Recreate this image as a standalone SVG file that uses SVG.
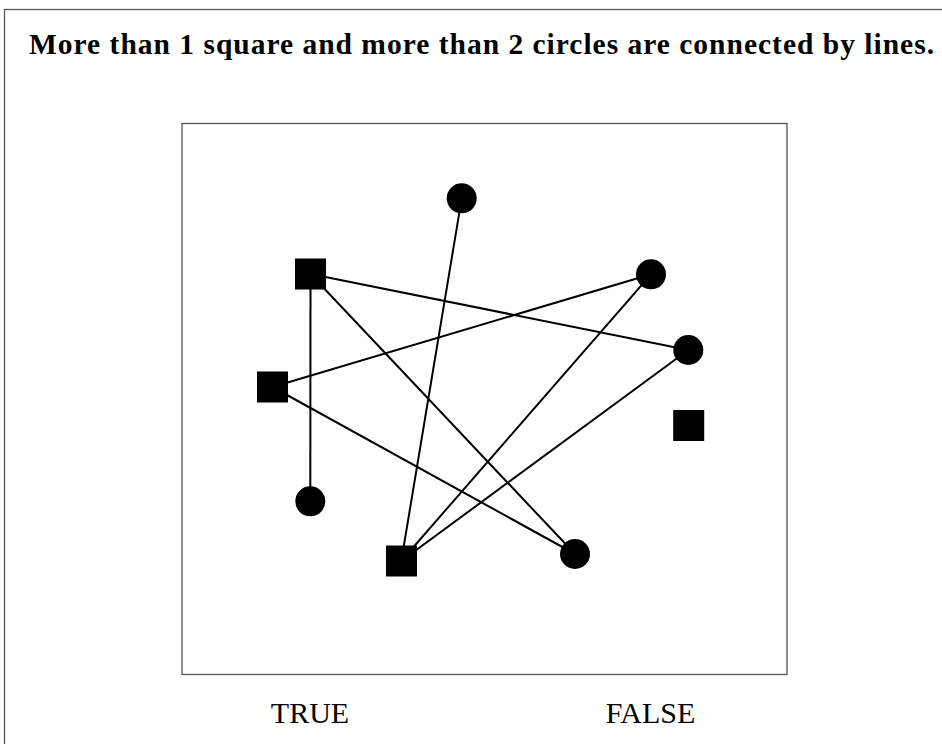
<svg xmlns="http://www.w3.org/2000/svg" width="942" height="744" viewBox="0 0 942 744">
<style>
.frame{fill:none;stroke:#555;stroke-width:1.3}
.edge{stroke:#000;stroke-width:2;fill:none}
.sq{fill:#000}
.ci{fill:#000}
.title{font-family:"Liberation Serif","DejaVu Serif",serif;font-weight:bold;font-size:29.5px;fill:#000}
.lbl{font-family:"Liberation Serif","DejaVu Serif",serif;font-size:30px;fill:#000}
</style>
<rect class="frame" x="4.5" y="9.5" width="950" height="760"/>
<text class="title" x="29" y="54" textLength="905">More than 1 square and more than 2 circles are connected by lines.</text>
<rect class="frame" x="182" y="123.5" width="605" height="551"/>
<g id="connectors">
<line class="edge" x1="461.7" y1="198.3" x2="401.3" y2="561"/>
<line class="edge" x1="310.5" y1="274" x2="688.3" y2="350"/>
<line class="edge" x1="310.5" y1="274" x2="310.3" y2="501.3"/>
<line class="edge" x1="310.5" y1="274" x2="575" y2="554"/>
<line class="edge" x1="272.5" y1="387" x2="651" y2="274.3"/>
<line class="edge" x1="272.5" y1="387" x2="575" y2="554"/>
<line class="edge" x1="401.3" y1="561" x2="651" y2="274.3"/>
<line class="edge" x1="401.3" y1="561" x2="688.3" y2="350"/>
</g>
<g id="S1"><rect class="sq" x="295" y="258.5" width="31" height="31"/></g>
<g id="S2"><rect class="sq" x="257" y="371.5" width="31" height="31"/></g>
<g id="S3"><rect class="sq" x="386" y="545.5" width="31" height="31"/></g>
<g id="S4"><rect class="sq" x="673.2" y="410" width="31" height="31"/></g>
<g id="C1"><circle class="ci" cx="461.7" cy="198.3" r="15"/></g>
<g id="C2"><circle class="ci" cx="651" cy="274.3" r="15"/></g>
<g id="C3"><circle class="ci" cx="688.3" cy="350" r="15"/></g>
<g id="C4"><circle class="ci" cx="310.3" cy="501.3" r="15"/></g>
<g id="C5"><circle class="ci" cx="575" cy="554" r="15"/></g>
<text class="lbl" x="310" y="723" text-anchor="middle">TRUE</text>
<text class="lbl" x="650.5" y="723" text-anchor="middle">FALSE</text>
</svg>
